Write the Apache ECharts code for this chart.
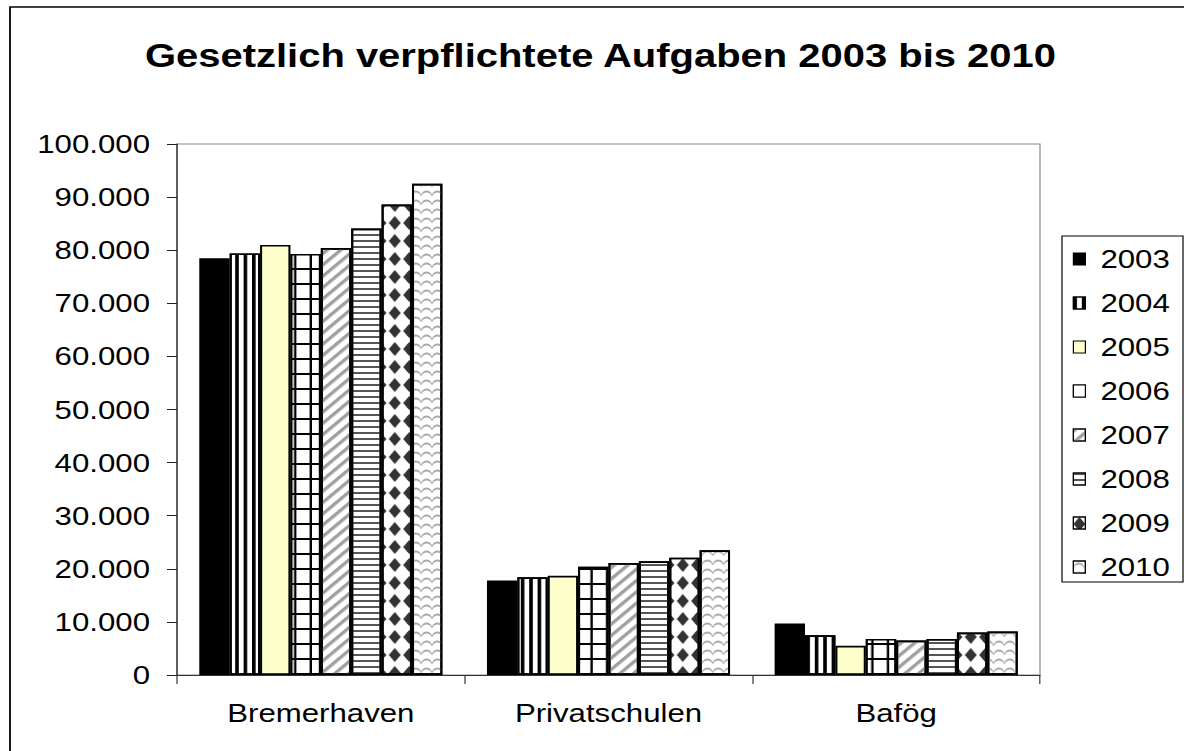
<!DOCTYPE html>
<html>
<head>
<meta charset="utf-8">
<script src="https://cdn.jsdelivr.net/npm/echarts@6/dist/echarts.min.js"></script>
<style>
html,body{margin:0;padding:0;background:#fff;overflow:hidden;width:1184px;height:751px;}
#c{position:absolute;left:0;top:0;height:751px;transform-origin:0 0;}
</style>
</head>
<body>
<div id="c"></div>
<script>
// ---- data ----
const titleText = 'Gesetzlich verpflichtete Aufgaben 2003 bis 2010';
const categories = ['Bremerhaven', 'Privatschulen', 'Bafög'];
const years = ['2003', '2004', '2005', '2006', '2007', '2008', '2009', '2010'];
const v2003 = [78500, 17800, 9700];
const v2004 = [79400, 18400, 7500];
const v2005 = [81000, 18700, 5500];
const v2006 = [79300, 20400, 6800];
const v2007 = [80400, 21100, 6500];
const v2008 = [84100, 21400, 6800];
const v2009 = [88600, 22100, 8000];
const v2010 = [92500, 23500, 8200];
const yMin = 0, yMax = 100000, yStep = 10000;

// ---- layout (text in the reference is widened horizontally) ----
const S = 1.2;
const W = 1184 / S;
const dom = document.getElementById('c');
dom.style.width = W + 'px';
dom.style.transform = 'scaleX(' + S + ')';

const FONT = "'Liberation Sans', Arial, sans-serif";
const seriesValues = [v2003, v2004, v2005, v2006, v2007, v2008, v2009, v2010];

const styles = [
  { color: '#000000' },
  { color: '#ffffff', decal: { symbol: 'rect', symbolSize: 1, color: '#000', backgroundColor: '#fff', dashArrayX: [2.5, 3.3], dashArrayY: [1, 0] } },
  { color: '#ffffcc' },
  { color: '#000000', decal: { symbol: 'rect', symbolSize: 1, color: '#fff', backgroundColor: '#000', dashArrayX: [10.8, 1.7], dashArrayY: [13, 2] } },
  { color: '#ffffff', decal: { symbol: 'rect', symbolSize: 1, color: '#a0a0a0', backgroundColor: '#fff', dashArrayX: [1, 0], dashArrayY: [2.5, 4.5], rotation: -Math.PI / 4 } },
  { color: '#ffffff', decal: { symbol: 'rect', symbolSize: 1, color: '#555', backgroundColor: '#fff', dashArrayX: [1, 0], dashArrayY: [2, 4] } },
  { color: '#ffffff', decal: { symbol: 'diamond', symbolSize: 1, color: '#333', backgroundColor: '#fff', dashArrayX: [10, 2], dashArrayY: [14, 4] } },
  { color: '#ffffff', decal: { symbol: 'path://M0,6 C2,0 8,0 10,6 L10,8 C8,2 2,2 0,8 Z', symbolSize: 1, color: '#a8a8a8', backgroundColor: '#fff', dashArrayX: [9, 0], dashArrayY: [9, 0] } }
];

const fmt = v => String(v).replace(/\B(?=(\d{3})+(?!\d))/g, '.');

const series = years.map((y, i) => ({
  name: y,
  type: 'bar',
  data: seriesValues[i],
  barGap: '0%',
  barCategoryGap: '15.5%',
  itemStyle: Object.assign({ borderColor: '#000', borderWidth: 1.7 }, styles[i])
}));

const chart = echarts.init(dom, null, { renderer: 'svg' });
chart.setOption({
  animation: false,
  backgroundColor: '#fff',
  title: {
    text: titleText,
    left: 145 / S,
    top: 39,
    padding: 0,
    textStyle: { fontFamily: FONT, fontSize: 33.3, fontWeight: 'bold', color: '#000' }
  },
  graphic: [{
    type: 'rect', z: -10, silent: true,
    shape: { x: 10 / S, y: 7, width: 2000, height: 2000 },
    style: { fill: 'none', stroke: '#000', lineWidth: 1.5 }
  }],
  legend: {
    orient: 'vertical',
    left: 1062 / S,
    top: 236,
    padding: [10, 11, 2, 9],
    itemWidth: 10,
    itemHeight: 12,
    itemGap: 18,
    borderColor: '#000',
    borderWidth: 1,
    icon: 'rect',
    itemStyle: { borderColor: '#000', borderWidth: 1 },
    textStyle: { fontFamily: FONT, fontSize: 26, color: '#000', padding: [0, 0, 0, 7.5] },
    data: years
  },
  grid: {
    left: 177 / S,
    top: 144,
    width: (1040 - 177) / S,
    height: 675 - 144,
    show: true,
    borderColor: '#888',
    borderWidth: 1,
    containLabel: false
  },
  xAxis: {
    type: 'category',
    data: categories,
    axisLine: { lineStyle: { color: '#333', width: 1 } },
    axisTick: { show: true, length: 9, lineStyle: { color: '#333' } },
    axisLabel: { fontFamily: FONT, fontSize: 26, color: '#000', margin: 25 },
    splitLine: { show: false }
  },
  yAxis: {
    type: 'value',
    min: yMin,
    max: yMax,
    interval: yStep,
    axisLine: { show: true, lineStyle: { color: '#222', width: 1 } },
    axisTick: { show: true, length: 10 / S, lineStyle: { color: '#222' } },
    axisLabel: { fontFamily: FONT, fontSize: 26, color: '#000', margin: 27 / S, formatter: fmt },
    splitLine: { show: false }
  },
  series: series
});
</script>
</body>
</html>
